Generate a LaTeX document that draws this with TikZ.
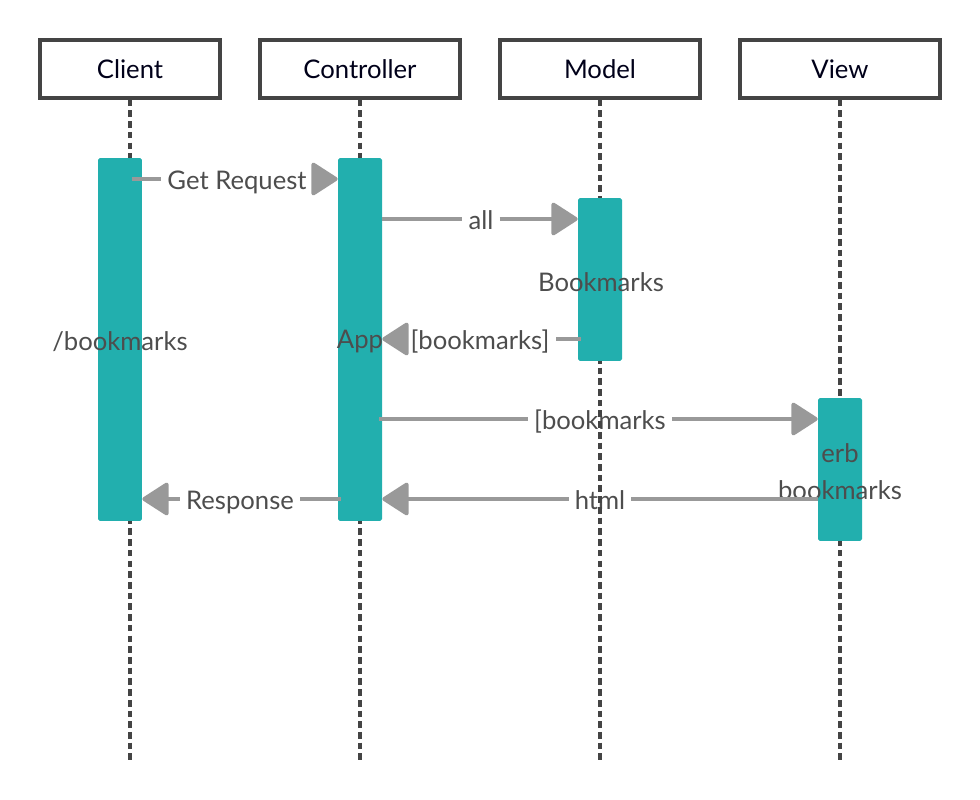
\documentclass[tikz,border=0pt]{standalone}
\usepackage{fontspec}
\setmainfont{Lato}
\usetikzlibrary{arrows.meta}
\definecolor{teal}{HTML}{22AFAE}
\definecolor{ink}{HTML}{4D4D4D}
\definecolor{wire}{HTML}{999999}
\definecolor{frame}{HTML}{444444}
\tikzset{
    actor/.style={rectangle,draw=frame,line width=1.9pt,minimum width=3.6cm,minimum height=1.16cm,text=black!90!blue,font=\fontsize{14.6}{21}\selectfont},
    wide/.style={minimum width=4cm},
    bar/.style={rectangle,fill=teal,rounded corners=1pt,minimum width=0.88cm,inner sep=0pt},
    lifeline/.style={draw=frame,line width=1.9pt,dash pattern=on 3.8pt off 2.3pt},
    label/.style={text=ink,font=\fontsize{14.6}{21}\selectfont,align=center},
    tag/.style={label,text height=12.4pt,text depth=0pt},
    msg/.style={draw=wire,line width=2.3pt},
    call/.style={msg,-{Triangle[length=16pt,width=20pt,round]}}
}
\begin{document}
\begin{tikzpicture}[x=0.02cm,y=-0.02cm]
\useasboundingbox (0,0) rectangle (980,800);
                        % actors
                            \node[actor] (client) at (130,69) {Client};
                            \node[actor,wide] (ctrl) at (360,69) {Controller};
                            \node[actor,wide] (model) at (600,69) {Model};
                            \node[actor,wide] (view) at (840,69) {View};
                        % message labels
                            \node[tag] (getreq) at (237,179) {Get Request};
                            \node[tag] (all) at (481,219) {all};
                            \node[tag] (bmret) at (480,339) {[bookmarks]};
                            \node[tag] (bmfwd) at (600,419) {[bookmarks};
                            \node[tag] (html) at (600,499) {html};
                            \node[tag] (resp) at (240,499) {Response};
                        % lifelines
                        \draw[lifeline] (client.south) -- (130,760);
                        \draw[lifeline] (ctrl.south) -- (360,760);
                        \draw[lifeline] (model.south) -- (600,760);
                        \draw[lifeline] (view.south) -- (840,760);
                        % bars
                            \node[bar,minimum height=7.26cm] (clientbar) at (120,339.5) {};
                            \node[bar,minimum height=7.26cm] (ctrlbar) at (360,339.5) {};
                            \node[bar,minimum height=3.26cm] (modelbar) at (600,279.5) {};
                            \node[bar,minimum height=2.86cm] (viewbar) at (840,469.5) {};
                            \node[label] (route) at (120,342) {/bookmarks};
                            \node[label] (app) at (360,342) {App};
                            \node[label] (store) at (601,282) {Bookmarks};
                            \node[label] (tmpl) at (840,472) {erb\\bookmarks};
                        %messages
                        \draw[msg,shorten <=-6pt] (getreq.west -| clientbar.east) -- (getreq.west);
                        \draw[call] (getreq.east) -- (getreq.east -| ctrlbar.west);
                        \draw[msg] (all.west -| ctrlbar.east) -- (all.west);
                        \draw[call] (all.east) -- (all.east -| modelbar.west);
                        \draw[msg,shorten <=-2pt] (bmret.east -| modelbar.west) -- (bmret.east);
                        \draw[call] (bmret.west) -- (bmret.west -| ctrlbar.east);
                        \draw[msg,shorten <=-2pt] (bmfwd.west -| ctrlbar.east) -- (bmfwd.west);
                        \draw[call] (bmfwd.east) -- (bmfwd.east -| viewbar.west);
                        \draw[msg] (html.east -| viewbar.west) -- (html.east);
                        \draw[call] (html.west) -- (html.west -| ctrlbar.east);
                        \draw[msg,shorten <=-2pt] (resp.east -| ctrlbar.west) -- (resp.east);
                        \draw[call] (resp.west) -- (resp.west -| clientbar.east);
                        \end{tikzpicture}
\end{document}
